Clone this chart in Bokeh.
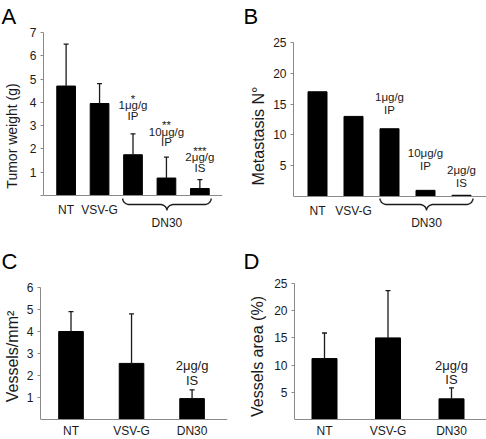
import numpy as np
from bokeh.plotting import figure
from bokeh.layouts import column, row
from bokeh.models import (Range1d, FixedTicker, LinearAxis, ColumnDataSource,
                          GlobalInlineStyleSheet)
from bokeh.core.properties import value
from bokeh.embed import file_html
from bokeh.resources import INLINE

# ---------------- data ----------------
# Panel A: tumor weight (g)
a_tick_labels = ["NT", "VSV-G"]
a_group_label = "DN30"
a_weight = [4.7, 3.95, 1.75, 0.75, 0.3]
a_weight_sd = [1.8, 0.85, 0.9, 0.9, 0.38]
a_notes = [[], [], ["*", "1μg/g", "IP"], ["**", "10μg/g", "IP"], ["***", "2μg/g", "IS"]]
a_yticks = [0, 1, 2, 3, 4, 5, 6, 7]

# Panel B: metastasis number
b_tick_labels = ["NT", "VSV-G"]
b_group_label = "DN30"
b_metastasis = [17, 13, 11, 1, 0.2]
b_notes = [[], [], ["1μg/g", "IP"], ["10μg/g", "IP"], ["2μg/g", "IS"]]
b_yticks = [5, 10, 15, 20, 25]

# Panels C and D
cd_groups = ["NT", "VSV-G", "DN30"]
c_vessels = [4.0, 2.55, 0.95]
c_vessels_sd = [0.9, 2.25, 0.4]
c_yticks = [1, 2, 3, 4, 5, 6]
d_area = [11.2, 15.0, 3.8]
d_area_sd = [4.7, 8.7, 2.0]
d_yticks = [5, 10, 15, 20, 25]
cd_notes = [[], [], ["2μg/g", "IS"]]

FONT = "Liberation Sans"
AXC = "#8a8a8a"
INK = "#1a1a1a"


def make_panel(w, h, fl, fr, ft, fb, x1_px, x_unit, y0_px, y_unit):
    """Figure whose frame spans fl..fr / ft..fb pixels, x=1 at x1_px, y=0 at y0_px."""
    xr = Range1d(1 + (fl - x1_px) / x_unit, 1 + (fr - x1_px) / x_unit)
    yr = Range1d((y0_px - fb) / y_unit, (y0_px - ft) / y_unit)
    p = figure(width=w, height=h, x_range=xr, y_range=yr, output_backend="svg",
               toolbar_location=None, x_axis_type=None, y_axis_type=None,
               min_border_left=fl, min_border_right=w - fr,
               min_border_top=ft, min_border_bottom=h - fb)
    p.outline_line_color = None
    p.background_fill_color = "white"
    p.border_fill_color = "white"
    dy = lambda py: (y0_px - py) / y_unit
    return p, dy, x_unit


def add_y_axis(p, ticks, top, label, standoff, label_size, overrides=None):
    ax = LinearAxis(ticker=FixedTicker(ticks=ticks), bounds=(0, top), axis_label=label,
                    axis_label_text_font=FONT, axis_label_text_font_size=label_size,
                    axis_label_text_font_style="normal", axis_label_text_color=INK,
                    axis_label_standoff=standoff,
                    major_label_text_font=FONT, major_label_text_font_size="12px",
                    major_label_text_color=INK, major_label_standoff=4,
                    major_tick_out=3, major_tick_in=0, minor_tick_line_color=None,
                    axis_line_color=AXC, major_tick_line_color=AXC)
    if overrides:
        ax.major_label_overrides = overrides
    p.add_layout(ax, "left")


def add_x_axis(p, positions, labels, standoff):
    ax = LinearAxis(ticker=FixedTicker(ticks=positions),
                    major_label_overrides={k: v for k, v in zip(positions, labels)},
                    fixed_location=0, major_tick_line_color=None, minor_tick_line_color=None,
                    major_tick_out=0, major_tick_in=0,
                    major_label_text_font=FONT, major_label_text_font_size="12px",
                    major_label_text_color=INK, major_label_standoff=standoff,
                    axis_line_color=AXC)
    p.add_layout(ax, "below")


def bars(p, xs, vals, width):
    p.vbar(x=xs, top=vals, bottom=0, width=width, fill_color="black", line_color="black")


def errbars(p, xs, vals, sds):
    tops = [v + s for v, s in zip(vals, sds)]
    p.segment(x0=xs, y0=vals, x1=xs, y1=tops, line_color=INK, line_width=1.3)
    p.scatter(x=xs, y=tops, marker="dash", size=5, line_color=INK, line_width=1.3)
    return tops


def notes(p, xs, anchors, note_lists, gaps, spacing, star_shift=4, size="12px"):
    tx, ty, tt, toff = [], [], [], []
    for x, a, lines, g in zip(xs, anchors, note_lists, gaps):
        n = len(lines)
        for i, t in enumerate(lines):
            off = -(g + (n - 1 - i) * spacing)
            if t.startswith("*"):
                off += star_shift
            tx.append(x); ty.append(a); tt.append(t); toff.append(off)
    src = ColumnDataSource(dict(x=tx, y=ty, text=tt, yo=toff))
    p.text(x="x", y="y", text="text", y_offset="yo", source=src, text_align="center",
           text_baseline="middle", text_font=value(FONT), text_font_size=size,
           text_color=INK)


def brace(p, x0, x1, dy, top_px, dep=6, rx_px=7, x_unit=1.0):
    rx = rx_px / x_unit
    m = (x0 + x1) / 2
    t = np.linspace(0, np.pi / 2, 12)
    xs, ys = [], []
    xs += list(x0 + rx * (1 - np.cos(t))); ys += list(top_px + dep * np.sin(t))
    xs += list(m - rx + rx * np.sin(t)); ys += list(top_px + dep + dep * (1 - np.cos(t)))
    xs += list(m + rx - rx * np.sin(t[::-1])); ys += list(top_px + dep + dep * (1 - np.cos(t[::-1])))
    xs += list(x1 - rx * (1 - np.cos(t[::-1]))); ys += list(top_px + dep * np.sin(t[::-1]))
    p.line(x=xs, y=[dy(v) for v in ys], line_color=INK, line_width=1.4)
    return m, top_px + 2 * dep


def title_letter(p, txt, offset, line_height=1.0):
    p.title.text = txt
    p.title.text_font = FONT
    p.title.text_font_size = "22px"
    p.title.text_font_style = "normal"
    p.title.text_color = "black"
    p.title.text_line_height = line_height
    p.title.align = "left"
    p.title.offset = offset
    p.title.standoff = 0


def group_label(p, x, y, txt):
    p.text(x=[x], y=[y], text=[txt], y_offset=[12], text_align="center",
           text_baseline="middle", text_font=value(FONT), text_font_size="12px",
           text_color=INK)


# ---------------- Panel A ----------------
pA, dyA, xuA = make_panel(243, 245, 40, 222, 28, 243, 63, 34, 195, 23.29)
xa = list(range(1, len(a_weight) + 1))
bw = 19 / xuA
bars(pA, xa, a_weight, bw)
topsA = errbars(pA, xa, a_weight, a_weight_sd)
notes(pA, xa, topsA, a_notes, gaps=[0, 0, 18, 15, 12], spacing=10.5, size="11.5px")
add_y_axis(pA, a_yticks, 7, "Tumor weight (g)", 7, "14px", overrides={0: ""})
add_x_axis(pA, [1, 2], a_tick_labels, 7)
mA, tipA = brace(pA, xa[2] - bw / 2 - 1 / xuA, xa[4] + bw / 2 + 2 / xuA, dyA, 198, x_unit=xuA)
group_label(pA, mA, dyA(tipA), a_group_label)
title_letter(pA, "A", -42, 0.7)

# ---------------- Panel B ----------------
pB, dyB, xuB = make_panel(243, 245, 50, 243, 28, 243, 74, 36, 196, 6.16)
xb = list(range(1, len(b_metastasis) + 1))
bwb = 19 / xuB
bars(pB, xb, b_metastasis, bwb)
notes(pB, xb, b_metastasis, b_notes, gaps=[0, 0, 19, 24, 12], spacing=13, size="11.5px")
add_y_axis(pB, b_yticks, 25, "Metastasis N°", 3, "16px")
add_x_axis(pB, [1, 2], b_tick_labels, 7)
mB, tipB = brace(pB, xb[2] - bwb / 2, xb[4] + bwb / 2 + 2 / xuB, dyB, 198, x_unit=xuB)
group_label(pB, mB, dyB(tipB), b_group_label)
title_letter(pB, "B", -50, 0.7)

# ---------------- Panel C ----------------
pC, dyC, xuC = make_panel(243, 194, 37, 227, 28, 194, 68, 61.5, 174, 22)
xc = list(range(1, len(c_vessels) + 1))
bars(pC, xc, c_vessels, 25 / xuC)
topsC = errbars(pC, xc, c_vessels, c_vessels_sd)
notes(pC, xc, topsC, cd_notes, gaps=[0, 0, 9], spacing=15, size="13px")
add_y_axis(pC, c_yticks, 6, "Vessels/mm²", 3, "16px")
add_x_axis(pC, [1, 2, 3], cd_groups, 4)
title_letter(pC, "C", -39)

# ---------------- Panel D ----------------
pD, dyD, xuD = make_panel(243, 194, 51, 243, 28, 194, 81, 63.5, 174, 5.44)
xd = list(range(1, len(d_area) + 1))
bars(pD, xd, d_area, 25 / xuD)
topsD = errbars(pD, xd, d_area, d_area_sd)
notes(pD, xd, topsD, cd_notes, gaps=[0, 0, 8], spacing=14, size="13px")
add_y_axis(pD, d_yticks, 25, "Vessels area (%)", 5, "16px")
add_x_axis(pD, [1, 2, 3], cd_groups, 4)
title_letter(pD, "D", -51)

layout = column(row(pA, pB), row(pC, pD))
layout.stylesheets = [GlobalInlineStyleSheet(css="html, body { margin: 0; padding: 0; }")]

open("out.html", "w").write(file_html(layout, INLINE))
